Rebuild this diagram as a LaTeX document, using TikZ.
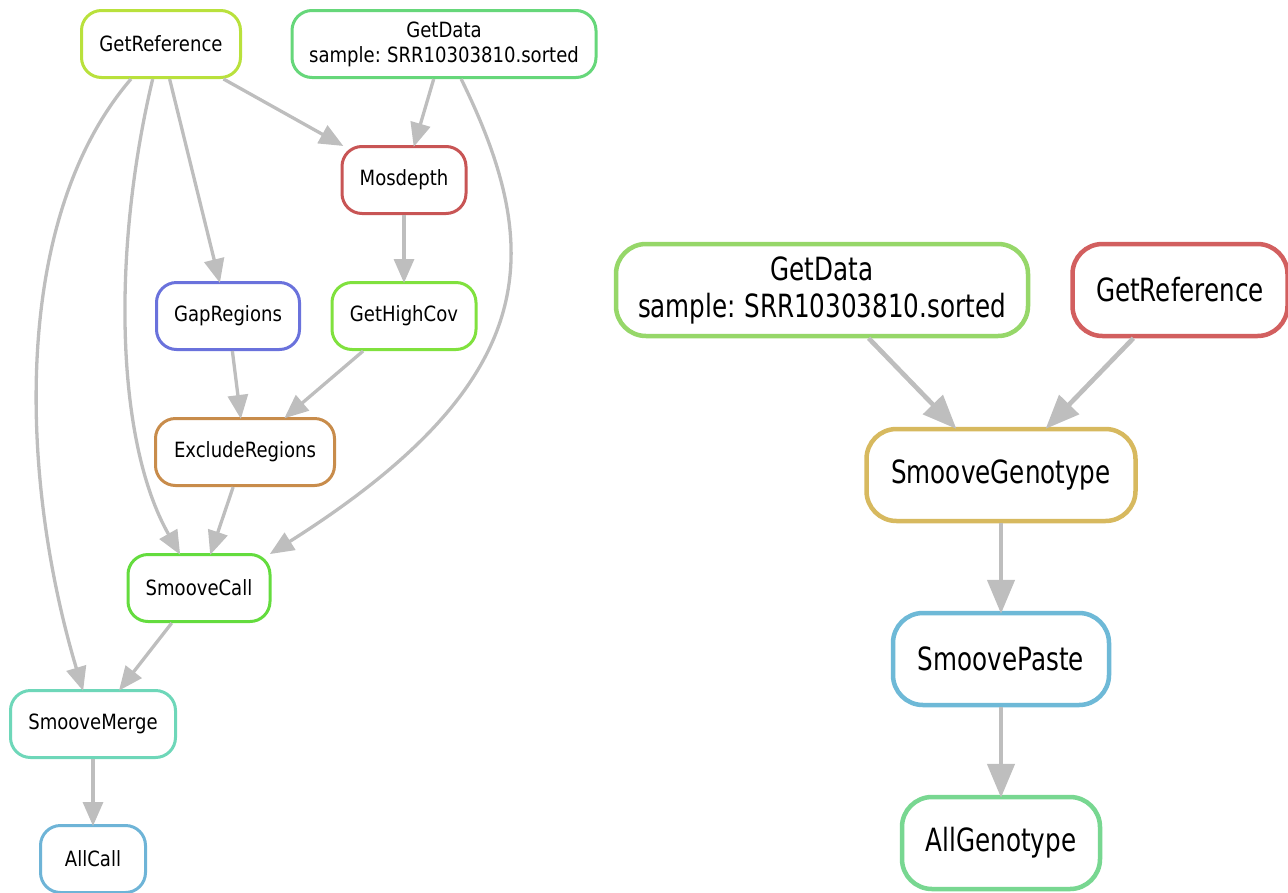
\documentclass[tikz,border=0pt]{standalone}
\usepackage{fontspec}
\newfontfamily\smallfont[FakeStretch=0.86,WordSpace=0.75]{DejaVu Sans}
\newfontfamily\bigfont[FakeStretch=0.77,WordSpace=0.75]{DejaVu Sans}
\usetikzlibrary{arrows.meta,positioning}

\definecolor{linkgray}{RGB}{190,190,190}
\definecolor{crefl}{RGB}{185,225,60}
\definecolor{cdatal}{RGB}{102,215,122}
\definecolor{cmos}{RGB}{200,85,85}
\definecolor{cgap}{RGB}{106,114,220}
\definecolor{chigh}{RGB}{128,225,62}
\definecolor{cexcl}{RGB}{200,140,75}
\definecolor{ccall}{RGB}{100,220,62}
\definecolor{cmerge}{RGB}{110,215,185}
\definecolor{callc}{RGB}{110,180,215}
\definecolor{cdatar}{RGB}{150,215,105}
\definecolor{crefr}{RGB}{210,95,95}
\definecolor{cgeno}{RGB}{215,185,95}
\definecolor{cpaste}{RGB}{110,185,215}
\definecolor{callg}{RGB}{120,215,145}

\begin{document}
\begin{tikzpicture}[x=1pt,y=-1pt,node distance=184pt,
        left node/.style={rectangle,draw,fill=white,rounded corners=20pt,line width=3pt,
          minimum height=67pt,align=center,font=\smallfont\fontsize{21}{25}\selectfont},
        right node/.style={rectangle,draw,fill=white,rounded corners=30pt,line width=4.5pt,
          minimum height=92pt,align=center,font=\bigfont\fontsize{32}{37}\selectfont},
        small link/.style={color=linkgray,line width=3.3pt,shorten >=-2pt,
          -{Triangle[length=24pt,width=20pt]}},
        big link/.style={color=linkgray,line width=4.7pt,shorten >=-3pt,
          -{Triangle[length=34pt,width=27pt]}}]
        \useasboundingbox (0,0) rectangle (1288,892);

        % left graph
        \node[left node,draw=crefl,minimum width=159pt] (gref) at (161,44) {GetReference};
        \node[left node,draw=cdatal,minimum width=304pt] (gdata) at (444,44) {GetData\\sample: SRR10303810.sorted};
        \node[left node,draw=cmos,minimum width=124pt] (mos) at (404,180) {Mosdepth};
        \node[left node,draw=cgap,minimum width=143pt] (gap) at (228,316) {GapRegions};
        \node[left node,draw=chigh,minimum width=144pt] (high) at (404,316) {GetHighCov};
        \node[left node,draw=cexcl,minimum width=179pt] (excl) at (245,452) {ExcludeRegions};
        \node[left node,draw=ccall,minimum width=142pt] (scall) at (199,588) {SmooveCall};
        \node[left node,draw=cmerge,minimum width=165pt] (smerge) at (93,724) {SmooveMerge};
        \node[left node,draw=callc,minimum width=105pt] (allcall) at (93,859) {AllCall};

        \path[small link]
        (gref) edge (mos)
        (gdata) edge (mos)
        (gref) edge (gap)
        (mos) edge (high)
        (gap) edge (excl)
        (high) edge (excl)
        (excl) edge (scall)
        (scall) edge (smerge)
        (smerge) edge (allcall)
        ;
        \draw[small link] (gref) .. controls (10,220) and (20,480) .. (smerge);
        \draw[small link] (gref) .. controls (112,250) and (115,440) .. (scall);
        \draw[small link] (gdata) .. controls (545,250) and (545,380) .. (scall.north east);

        % right graph
        \node[right node,draw=cdatar,minimum width=412pt] (gdata2) at (822,290) {GetData\\sample: SRR10303810.sorted};
        \node[right node,draw=crefr,minimum width=215pt] (gref2) at (1180,290) {GetReference};
        \node[right node,draw=cgeno,minimum width=269pt] (geno) at (1001,475) {SmooveGenotype};
        \node[right node,draw=cpaste,minimum width=216pt] (paste) [below of=geno] {SmoovePaste};
        \node[right node,draw=callg,minimum width=198pt] (allgeno) [below of=paste] {AllGenotype};

        \path[big link]
        (gdata2) edge (geno)
        (gref2) edge (geno)
        (geno) edge (paste)
        (paste) edge (allgeno)
        ;
\end{tikzpicture}
\end{document}
